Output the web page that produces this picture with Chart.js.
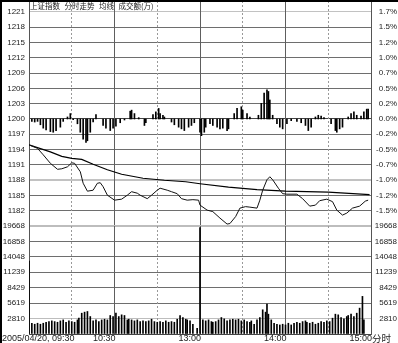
<!DOCTYPE html>
<html>
<head>
<meta charset="utf-8">
<script src="https://cdn.jsdelivr.net/npm/chart.js@4.4.1/dist/chart.umd.min.js"></script>
<style>
  html, body { margin: 0; padding: 0; background: #fff; }
  #wrap { position: relative; width: 398px; height: 343px; overflow: hidden; background: #fff; }
  #wrap canvas { position: absolute; left: 0; }
  #priceCanvas { top: 0; }
  #volCanvas { top: 212px; }
  .edge { position: absolute; background: #000; }
</style>
</head>
<body>
<div id="wrap">
  <canvas id="priceCanvas" width="398" height="227"></canvas>
  <canvas id="volCanvas" width="398" height="131"></canvas>
  <div class="edge" style="left:0;top:0;width:398px;height:2px"></div>
  <div class="edge" style="left:0;top:0;width:2px;height:343px"></div>
</div>
<script>
// axis frame: previous close and the spacing of the rules
const prevClose = 1200;
const gridStep = 3.07;
const volTop = 19668;

const priceLabels = ['1221', '1218', '1215', '1212', '1209', '1206', '1203', '1200', '1197', '1194', '1191', '1188', '1185', '1182'];
const pctLabels = ['1.7%', '1.5%', '1.2%', '1.0%', '0.7%', '0.5%', '0.2%', '0.0%', '-0.2%', '-0.5%', '-0.7%', '-1.0%', '-1.2%', '-1.5%'];
const volLabels = ['19668', '16858', '14048', '11239', '8429', '5619', '2810'];
const timeTicks = [0, 60, 120, 180, 240];
const timeLabels = ['2005/04/20, 09:30', '10:30', '13:00', '14:00', '15:00'];
const titleParts = ['上证指数', '分时走势', '均线', '成交额(万)'];

// minutes after 09:30 (lunch break removed, 120 = 11:30/13:00)
const priceMin = [0, 6, 10, 15, 20, 23, 27, 30, 32, 36, 38, 41, 45, 48, 50, 52, 55, 60, 65, 69,
  72, 76, 78, 83, 86, 90, 92, 97, 100, 104, 107, 111, 115, 119, 120, 125, 129, 134, 139, 141,
  145, 148, 152, 155, 160, 162, 164, 167, 169, 171, 175, 178, 181, 188, 192, 197, 201, 204, 209, 213,
  216, 220, 223, 227, 232, 236, 238];
const priceVal = [1194.8, 1194.1, 1192.8, 1191.1, 1189.9, 1190.0, 1190.4, 1191.2, 1191.1, 1189.4,
  1187.1, 1185.5, 1185.7, 1187.1, 1187.2, 1186.4, 1184.7, 1183.7, 1183.9, 1184.7,
  1185.4, 1185.1, 1184.7, 1184.0, 1184.7, 1185.7, 1186.1, 1185.7, 1185.4, 1185.0,
  1184.0, 1183.7, 1183.8, 1183.7, 1182.7, 1181.7, 1181.4, 1180.1, 1178.9, 1179.0,
  1180.4, 1182.1, 1182.4, 1182.3, 1182.1, 1183.7, 1185.7, 1187.8, 1188.4, 1187.8,
  1186.1, 1185.0, 1184.9, 1184.9, 1184.0, 1182.5, 1182.7, 1183.6, 1183.9, 1183.4,
  1181.7, 1180.7, 1181.1, 1182.1, 1182.5, 1183.5, 1183.7];

const avgMin = [0, 15, 23, 30, 37, 45, 55, 65, 80, 95, 110, 120, 140, 160, 180, 210, 239];
const avgVal = [1194.8, 1193.4, 1192.5, 1192.1, 1191.9, 1190.9, 1189.8, 1188.9, 1188.1, 1187.7,
  1187.4, 1187.0, 1186.3, 1185.8, 1185.5, 1185.3, 1184.8];

// up/down bars hanging from the 0.0% line, in index points
const leadMin = [2, 4, 6, 8, 10, 12, 15, 17, 19, 22, 24, 27, 29, 31, 34, 36, 38, 40, 41, 43,
  45, 47, 52, 54, 57, 59, 61, 64, 67, 71, 72, 74, 77, 81, 82, 87, 89, 91, 92, 94,
  95, 100, 102, 105, 107, 109, 112, 114, 116, 120, 121, 123, 124, 127, 129, 132, 134, 136, 139, 140,
  144, 146, 149, 150, 153, 155, 161, 163, 165, 167, 168, 169, 171, 174, 176, 178, 181, 184, 188, 191,
  194, 196, 198, 201, 203, 205, 207, 212, 215, 216, 218, 220, 224, 226, 228, 230, 233, 235, 237, 238];
const leadVal = [-0.48, -0.61, -0.48, -1.16, -1.84, -2.19, -2.53, -2.66, -2.32, -1.64,
  -0.48, 0.41, 1.09, -0.14, -0.96, -2.66, -4.03, -4.71, -4.37, -2.66,
  -0.61, 0.89, -1.3, -1.84, -2.32, -1.84, -1.43, -0.75, -0.2, 1.57,
  1.78, 1.09, 0.27, -1.3, -0.75, 0.89, 1.43, 2.12, 1.09, 0.75,
  0.41, -0.61, -1.16, -1.64, -1.98, -2.32, -1.64, -1.3, -0.75, -2.66,
  -3.35, -2.66, -1.64, -0.96, -1.3, -1.64, -1.98, -1.84, -2.32, -1.98,
  1.09, 2.12, 2.46, 1.78, 1.09, 0.41, 0.75, 3.14, 5.19, 5.87,
  5.53, 3.82, 0.75, -0.96, -1.64, -1.98, -0.96, -0.34, -0.48, -0.75,
  -1.3, -2.32, -1.64, 0.41, 0.75, 0.61, 0.27, -0.96, -2.32, -2.66,
  -1.98, -1.64, 0.41, 1.09, 1.43, 0.75, 0.61, 1.43, 1.98, 1.98];

const volMin = [0, 2, 4, 6, 8, 10, 12, 14, 16, 18, 20, 22, 24, 26, 28, 30, 32, 34, 35, 37,
  39, 41, 43, 45, 47, 49, 51, 53, 55, 57, 59, 61, 63, 65, 67, 69, 70, 72, 74, 76,
  78, 80, 82, 84, 86, 88, 90, 92, 94, 96, 98, 100, 102, 104, 106, 108, 110, 111, 113, 115, 118,
  120, 122, 124, 126, 128, 129, 131, 133, 135, 137, 139, 141, 143, 145, 147, 149, 151, 153, 155, 156,
  158, 160, 162, 164, 166, 167, 168, 170, 172, 174, 176, 178, 180, 182, 184, 186, 188, 190, 192, 194,
  195, 197, 199, 201, 203, 205, 207, 209, 211, 213, 215, 217, 219, 221, 223, 224, 226, 228, 230, 232,
  234, 235];
const volVal = [13280, 1960, 1780, 1960, 1780, 1960, 2140, 2260, 2390, 2260,
  2140, 2390, 2570, 2140, 2390, 2260, 2140, 2570, 2880, 3790,
  3980, 4100, 3180, 2390, 2570, 2260, 2570, 2690, 2570, 3370,
  3180, 3790, 3180, 3490, 3370, 2570, 2690, 2570, 2390, 2570,
  2260, 2390, 2260, 2390, 2690, 2260, 2140, 2260, 2140, 2390,
  2140, 2260, 2140, 2690, 3370, 3000, 2690, 2570, 2390, 1780, 1040,
  19400, 2570, 2390, 2570, 2260, 2140, 2260, 2570, 3000, 2750,
  2390, 2570, 2690, 2570, 2690, 2390, 2570, 2260, 2140, 2390,
  1780, 2570, 3000, 4410, 3980, 5450, 3610, 2570, 1960, 1780,
  1650, 1780, 1650, 1960, 1650, 1960, 2140, 1960, 2260, 2390,
  2140, 1960, 2140, 1780, 1960, 2260, 2140, 2390, 2260, 2880,
  3610, 3490, 3000, 2750, 3180, 3370, 3610, 3180, 3790, 4710,
  6850, 2570];

const tickFont = { family: '"Liberation Sans", Arial, sans-serif', size: 8 };
const labelColor = '#222';

const priceTickValues = [];
for (let i = -7; i <= 7; i++) priceTickValues.push(prevClose + i * gridStep);
const volTickValues = [];
for (let i = 0; i <= 7; i++) volTickValues.push(i * volTop / 7);

const priceStep = v => Math.round((v - prevClose) / gridStep);
const volStep = v => Math.round(v / (volTop / 7));

// vertical half-hour rules, solid on the hour marks
const sessionGrid = {
  id: 'sessionGrid',
  beforeDatasetsDraw(chart) {
    const { ctx, chartArea: a, scales: { x } } = chart;
    ctx.save();
    ctx.lineWidth = 1;
    [30, 60, 90, 120, 150, 180, 210].forEach(m => {
      const px = Math.floor(x.getPixelForValue(m)) + 0.5;
      const solid = m % 60 === 0;
      ctx.strokeStyle = solid ? '#5e5e5e' : '#999';
      ctx.setLineDash(solid ? [] : [2, 2]);
      ctx.beginPath();
      ctx.moveTo(px, a.top);
      ctx.lineTo(px, a.bottom);
      ctx.stroke();
    });
    ctx.restore();
  }
};

const titleText = {
  id: 'titleText',
  afterDraw(chart) {
    const { ctx, chartArea: a } = chart;
    ctx.save();
    ctx.font = '7.5px "Noto Sans CJK SC", sans-serif';
    ctx.fillStyle = '#222';
    ctx.textBaseline = 'middle';
    let x = a.left + 1;
    titleParts.forEach(t => {
      ctx.fillText(t, x, 6);
      x += ctx.measureText(t).width + 4.5;
    });
    ctx.restore();
  }
};

const timeAxis = {
  id: 'timeAxis',
  afterDraw(chart) {
    const { ctx, scales: { x } } = chart;
    const y = chart.height - 4.5;
    ctx.save();
    ctx.font = '9px "Liberation Sans", Arial, sans-serif';
    ctx.fillStyle = labelColor;
    ctx.textBaseline = 'middle';
    timeTicks.forEach((m, i) => {
      if (i === 0) {
        ctx.textAlign = 'left';
        ctx.fillText(timeLabels[i], 2, y);
      } else {
        ctx.textAlign = 'right';
        ctx.fillText(timeLabels[i], x.getPixelForValue(m) + 1, y);
      }
    });
    ctx.textAlign = 'left';
    ctx.font = '9.5px "Noto Sans CJK SC", sans-serif';
    ctx.fillText('分时', x.getPixelForValue(240) + 1, y);
    ctx.restore();
  }
};

const fixLeft = s => { s.width = 29; s.paddingTop = 0; s.paddingBottom = 0; };
const fixRight = s => { s.width = 26; s.paddingTop = 0; s.paddingBottom = 0; };

const priceCtx = document.getElementById('priceCanvas').getContext('2d');
new Chart(priceCtx, {
  type: 'bar',
  data: {
    datasets: [{
      type: 'line',
      label: '分时走势',
      data: priceMin.map((m, i) => ({ x: m, y: priceVal[i] })),
      borderColor: '#111',
      borderWidth: 1,
      pointRadius: 0,
      tension: 0
    }, {
      type: 'line',
      label: '均线',
      data: avgMin.map((m, i) => ({ x: m, y: avgVal[i] })),
      borderColor: '#000',
      borderWidth: 1.2,
      pointRadius: 0,
      tension: 0
    }, {
      label: 'lead',
      data: leadMin.map((m, i) => ({ x: m, y: [prevClose, prevClose + leadVal[i]] })),
      backgroundColor: '#000',
      barThickness: 1,
      grouped: false
    }]
  },
  options: {
    responsive: false,
    animation: false,
    devicePixelRatio: 1,
    events: [],
    layout: { padding: { top: 1, bottom: 1, left: 0, right: 1 } },
    plugins: { legend: { display: false }, tooltip: { enabled: false } },
    scales: {
      x: { type: 'linear', min: 0, max: 240, display: false, offset: false },
      y: {
        position: 'left',
        min: prevClose - 7 * gridStep,
        max: prevClose + 118 / 107 * 7 * gridStep,
        afterBuildTicks: s => { s.ticks = priceTickValues.map(v => ({ value: v })); },
        afterFit: fixLeft,
        ticks: {
          autoSkip: false,
          padding: 4,
          color: labelColor,
          font: tickFont,
          callback: v => priceLabels[7 - priceStep(v)] || ''
        },
        grid: {
          drawTicks: false,
          color: c => {
            const i = priceStep(c.tick.value);
            if (i === -7) return 'rgba(0,0,0,0)';
            if (i === 7 || i === -4) return '#c2c2c2';
            if (i === 0) return '#444';
            return '#6e6e6e';
          },
          lineWidth: c => (priceStep(c.tick.value) === -4 ? 2 : 1)
        },
        border: { display: true, color: '#555', width: 1 }
      },
      yR: {
        position: 'right',
        min: prevClose - 7 * gridStep,
        max: prevClose + 118 / 107 * 7 * gridStep,
        afterBuildTicks: s => { s.ticks = priceTickValues.map(v => ({ value: v })); },
        afterFit: fixRight,
        ticks: {
          autoSkip: false,
          crossAlign: 'far',
          color: labelColor,
          font: tickFont,
          callback: v => pctLabels[7 - priceStep(v)] || ''
        },
        grid: { drawOnChartArea: false, drawTicks: false },
        border: { display: true, color: '#555', width: 1 }
      }
    }
  },
  plugins: [sessionGrid, titleText]
});

const volCtx = document.getElementById('volCanvas').getContext('2d');
new Chart(volCtx, {
  type: 'bar',
  data: {
    datasets: [{
      label: '成交额(万)',
      data: volMin.map((m, i) => ({ x: m, y: volVal[i] })),
      backgroundColor: '#000',
      barThickness: 1,
      grouped: false
    }]
  },
  options: {
    responsive: false,
    animation: false,
    devicePixelRatio: 1,
    events: [],
    layout: { padding: { top: 14, bottom: 9, left: 0, right: 1 } },
    plugins: { legend: { display: false }, tooltip: { enabled: false } },
    scales: {
      x: { type: 'linear', min: 0, max: 240, display: false, offset: false },
      y: {
        position: 'left',
        min: 0,
        max: volTop,
        afterBuildTicks: s => { s.ticks = volTickValues.map(v => ({ value: v })); },
        afterFit: fixLeft,
        ticks: {
          autoSkip: false,
          padding: 4,
          color: labelColor,
          font: tickFont,
          callback: v => volLabels[7 - volStep(v)] || ''
        },
        grid: {
          drawTicks: false,
          color: c => {
            const i = volStep(c.tick.value);
            if (i === 0) return '#444';
            if (i === 7 || i === 1) return '#bdbdbd';
            return '#6e6e6e';
          },
          lineWidth: c => (volStep(c.tick.value) === 7 ? 2 : 1)
        },
        border: { display: true, color: '#555', width: 1 }
      },
      yR: {
        position: 'right',
        min: 0,
        max: volTop,
        afterBuildTicks: s => { s.ticks = volTickValues.map(v => ({ value: v })); },
        afterFit: fixRight,
        ticks: {
          autoSkip: false,
          crossAlign: 'far',
          color: labelColor,
          font: tickFont,
          callback: v => volLabels[7 - volStep(v)] || ''
        },
        grid: { drawOnChartArea: false, drawTicks: false },
        border: { display: true, color: '#555', width: 1 }
      }
    }
  },
  plugins: [sessionGrid, timeAxis]
});
</script>
</body>
</html>
